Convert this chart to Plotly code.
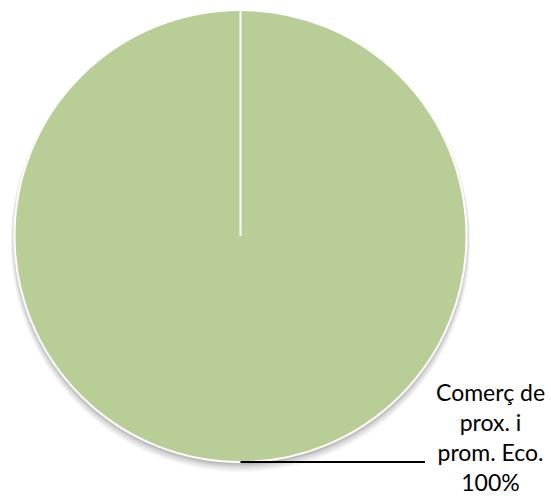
import plotly.graph_objects as go

# Data
labels = ["Comerç de prox. i prom. Eco."]
values = [100]
label_text = "Comerç de<br>prox. i<br>prom. Eco.<br>100%"

W, H = 551, 498
cx, cy, r = 240.5, 236.0, 226.0  # pixel layout of pie (from top-left)

dom_x = [(cx - r) / W, (cx + r) / W]
dom_y = [(H - cy - r) / H, (H - cy + r) / H]

fig = go.Figure()

# soft shadow under the pie
shapes = []
for off, extra, a in [(6, 4, 0.04), (5, 3, 0.05), (4, 2, 0.06), (3, 1, 0.07), (2, 0.5, 0.08)]:
    shapes.append(dict(type="circle", xref="paper", yref="paper",
                       x0=(cx - r - extra) / W, x1=(cx + r + extra) / W,
                       y0=(H - (cy + off) - r - extra) / H, y1=(H - (cy + off) + r + extra) / H,
                       fillcolor=f"rgba(0,0,0,{a})", line=dict(width=0), layer="below"))

fig.add_trace(go.Pie(
    labels=labels, values=values,
    marker=dict(colors=["#B9CE96"], line=dict(color="white", width=2)),
    textinfo="none", hoverinfo="label+percent",
    sort=False, direction="clockwise", rotation=0,
    domain=dict(x=dom_x, y=dom_y),
    showlegend=False,
))

# radial slice border (from top of pie to center)
shapes.append(dict(type="line", xref="paper", yref="paper",
                   x0=cx / W, x1=cx / W, y0=(H - cy) / H, y1=(H - cy + r) / H,
                   line=dict(color="white", width=2), layer="above"))
# leader line
shapes.append(dict(type="line", xref="paper", yref="paper",
                   x0=cx / W, x1=425 / W, y0=(H - cy - r) / H, y1=(H - cy - r) / H,
                   line=dict(color="black", width=2), layer="above"))

fig.add_annotation(xref="paper", yref="paper", x=490 / W, y=(H - 437) / H,
                   xanchor="center", yanchor="middle", showarrow=False,
                   text=label_text, align="center",
                   font=dict(family="Lato", size=23, color="#000000"))

fig.update_layout(width=W, height=H, margin=dict(l=0, r=0, t=0, b=0),
                  paper_bgcolor="white", plot_bgcolor="white", shapes=shapes)

fig.write_html("out.html", config={"displayModeBar": False},
               post_script="document.body.style.margin='0';document.body.style.overflow='hidden';")
